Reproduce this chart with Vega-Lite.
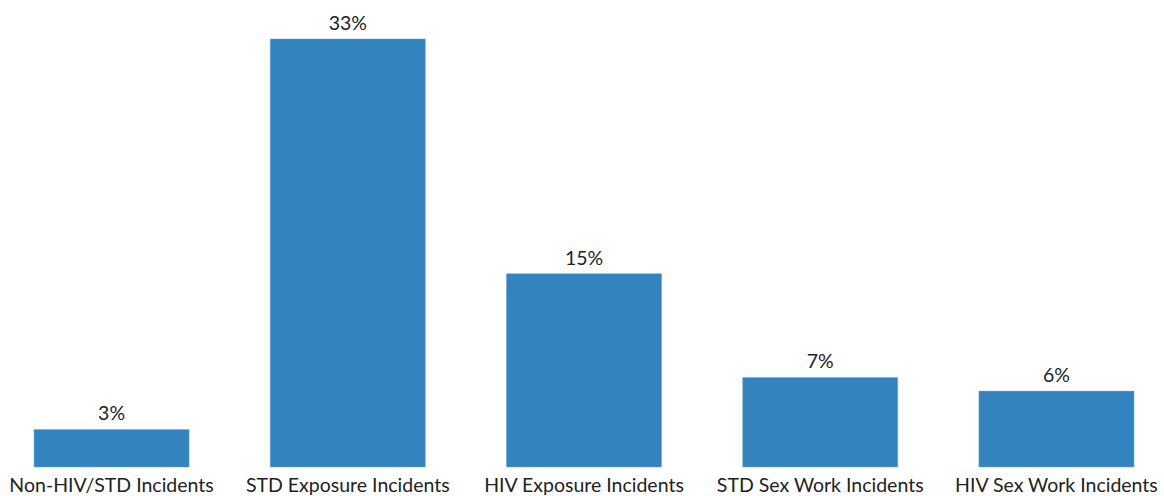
{
  "$schema": "https://vega.github.io/schema/vega-lite/v6.json",
  "width": 1164,
  "height": 467,
  "autosize": {"type": "none"},
  "padding": {"left": 0, "top": 0, "right": 0, "bottom": 29},
  "background": "white",
  "config": {"view": {"stroke": null}, "font": "Lato"},
  "data": {"values": [
    {"category": "Non-HIV/STD Incidents", "value": 2.9, "label": "3%"},
    {"category": "STD Exposure Incidents", "value": 33, "label": "33%"},
    {"category": "HIV Exposure Incidents", "value": 14.9, "label": "15%"},
    {"category": "STD Sex Work Incidents", "value": 6.9, "label": "7%"},
    {"category": "HIV Sex Work Incidents", "value": 5.85, "label": "6%"}
  ]},
  "encoding": {
    "x": {"field": "category", "type": "nominal", "sort": null,
      "scale": {"paddingInner": 0.3435, "paddingOuter": 0.144, "range": [0, 1168]},
      "axis": {"title": null, "labelAngle": 0, "domain": false, "ticks": false, "labelFont": "Lato", "labelFontSize": 19.5, "labelColor": "#222222", "labelPadding": 9, "labelLimit": 300}},
    "y": {"field": "value", "type": "quantitative", "scale": {"domain": [0, 36], "nice": false}, "axis": null}
  },
  "layer": [
    {"mark": {"type": "bar", "color": "#3383bf", "stroke": "#6fa9d6", "strokeWidth": 0.5}},
    {"mark": {"type": "text", "baseline": "bottom", "dy": -5, "font": "Lato", "fontSize": 19.5, "color": "#222222"},
     "encoding": {"text": {"field": "label"}}}
  ]
}
